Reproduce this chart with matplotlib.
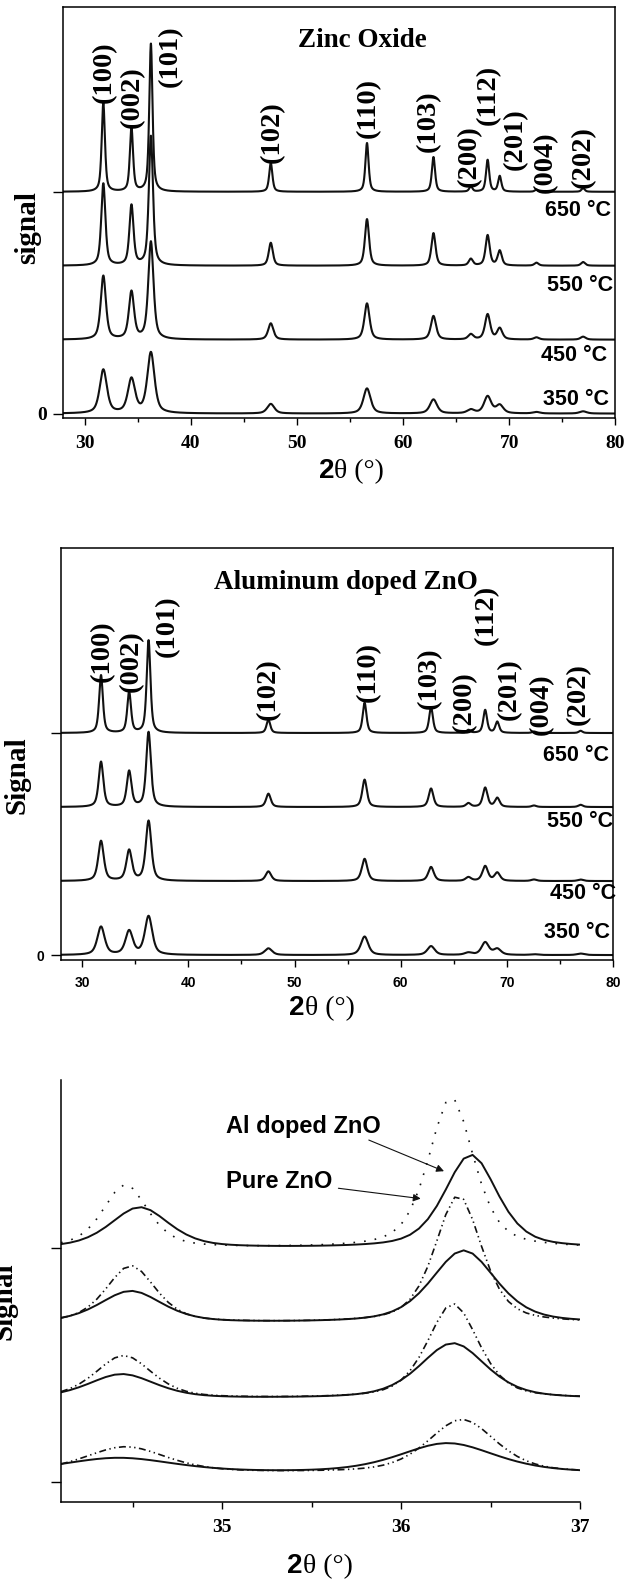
import matplotlib
matplotlib.use("Agg")
import matplotlib.pyplot as plt
import numpy as np

plt.rcParams['lines.scale_dashes'] = False
SERIF = 'Liberation Serif'
SANS = 'Liberation Sans'

# ---- data ----
temps = ['350 °C', '450 °C', '550 °C', '650 °C']
hkl = ['(100)', '(002)', '(101)', '(102)', '(110)', '(103)', '(200)', '(112)', '(201)', '(004)', '(202)']
peak_pos = [31.77, 34.42, 36.25, 47.54, 56.60, 62.86, 66.38, 67.96, 69.10, 72.56, 76.95]

# pure ZnO peak heights (offset units), 350 -> 650 °C
zno_h = [
    [0.59, 0.46, 0.82, 0.13, 0.34, 0.19, 0.05, 0.23, 0.11, 0.02, 0.03],
    [0.86, 0.64, 1.32, 0.22, 0.49, 0.32, 0.07, 0.34, 0.15, 0.03, 0.04],
    [1.11, 0.81, 1.75, 0.31, 0.63, 0.44, 0.09, 0.41, 0.20, 0.04, 0.05],
    [1.20, 0.86, 2.00, 0.39, 0.66, 0.47, 0.07, 0.43, 0.21, 0.03, 0.05],
]
zno_fwhm = [0.80, 0.58, 0.46, 0.36]

# Al doped ZnO peak heights
azo_h = [
    [0.38, 0.32, 0.52, 0.09, 0.25, 0.12, 0.03, 0.17, 0.08, 0.01, 0.02],
    [0.54, 0.41, 0.81, 0.13, 0.30, 0.19, 0.05, 0.20, 0.11, 0.02, 0.02],
    [0.61, 0.48, 1.01, 0.18, 0.37, 0.25, 0.05, 0.26, 0.12, 0.02, 0.03],
    [0.78, 0.55, 1.25, 0.18, 0.41, 0.35, 0.04, 0.31, 0.15, 0.02, 0.03],
]
azo_fwhm = [0.82, 0.62, 0.52, 0.42]
offsets = [0, 1, 2, 3]

# zoom on (002)/(101), 350 -> 650 °C
z_al_pos = [[34.42, 36.26], [34.44, 36.29], [34.49, 36.35], [34.54, 36.39]]
z_al_h = [[0.20, 0.40], [0.33, 0.75], [0.43, 0.98], [0.55, 1.26]]
z_al_fwhm = [[0.75, 0.64], [0.45, 0.44], [0.42, 0.43], [0.39, 0.35]]
z_pure_pos = [[34.46, 36.34], [34.45, 36.29], [34.49, 36.32], [34.46, 36.28]]
z_pure_h = [[0.35, 0.72], [0.58, 1.28], [0.77, 1.72], [0.85, 2.03]]
z_pure_fwhm = [[0.55, 0.45], [0.38, 0.34], [0.33, 0.31], [0.30, 0.30]]
z_offsets = [0, 1.0, 2.02, 3.03]


def profile(x, pos, h, w, eta=0.6):
    y = np.zeros_like(x)
    for p, a, f in zip(pos, h, np.broadcast_to(w, len(pos))):
        u = (x - p) / (f / 2)
        y += a * (eta / (1 + u ** 2) + (1 - eta) * np.exp(-np.log(2) * u ** 2))
    return y


fig = plt.figure(figsize=(6.38, 15.81), dpi=100)


def xrd_panel(rect, heights, fwhm, title, title_x, tick_font, tick_size, labels_hkl, labels_t):
    ax = fig.add_axes(rect)
    x = np.linspace(28, 80, 3000)
    for i in range(4):
        ax.plot(x, offsets[i] + profile(x, peak_pos, heights[i], fwhm[i]), color='#111111', lw=1.5)
    ax.set_xlim(28, 80)
    ax.set_ylim(-0.06, 5.5)
    ax.set_xticks([30, 40, 50, 60, 70, 80])
    ax.set_xticks([35, 45, 55, 65, 75], minor=True)
    ax.set_yticks([0, 3])
    ax.set_yticklabels(['0', ''])
    ax.tick_params(direction='out', length=5, width=1.0, pad=7)
    ax.tick_params(axis='y', length=7, pad=5)
    ax.tick_params(which='minor', direction='out', length=3, width=1.0)
    for lab in ax.get_xticklabels() + ax.get_yticklabels():
        lab.set_fontfamily(tick_font)
        lab.set_fontweight('bold')
        lab.set_fontsize(tick_size)
    for s in ax.spines.values():
        s.set_linewidth(1.1)
    ax.text(title_x, 5.04, title, ha='center', va='center', fontfamily=SERIF,
            fontweight='bold', fontsize=19.5)
    for lab, (lx, ly) in zip(hkl, labels_hkl):
        ax.text(lx, ly, lab, rotation=90, ha='center', va='bottom', fontfamily=SERIF,
                fontweight='bold', fontsize=20.5)
    for lab, (lx, ly) in zip(temps, labels_t):
        ax.text(lx, ly, lab, ha='right', va='center', fontfamily=SANS,
                fontweight='bold', fontsize=15.5)
    return ax


ax1 = xrd_panel([0.0992, 0.7356, 0.8655, 0.2600], zno_h, zno_fwhm, 'Zinc Oxide', 56.2,
                SERIF, 14,
                [(31.9, 4.20), (34.5, 3.86), (38.1, 4.42), (47.65, 3.39), (56.75, 3.73),
                 (62.4, 3.54), (66.2, 3.07), (68.07, 3.91), (70.56, 3.30), (73.4, 2.99), (77.0, 3.05)],
                [(79.39, 0.19), (79.2, 0.79), (79.76, 1.73), (79.57, 2.75)])

ax2 = xrd_panel([0.0956, 0.3931, 0.8652, 0.2603], azo_h, azo_fwhm, 'Aluminum doped ZnO', 54.85,
                SANS, 10,
                [(31.92, 3.69), (34.61, 3.56), (37.99, 4.03), (47.58, 3.18), (56.98, 3.42),
                 (62.73, 3.33), (66.0, 3.0), (68.11, 4.19), (70.22, 3.18), (73.29, 2.97), (76.74, 3.11)],
                [(79.72, 0.31), (80.28, 0.83), (80.0, 1.80), (79.62, 2.70)])

# ---- bottom panel: zoom around (002) and (101) ----
ax3 = fig.add_axes([0.0956, 0.0500, 0.8135, 0.2669])
xz = np.arange(34.1, 37.001, 0.05)
dashdotdot = (0, (5, 2.5, 1, 2.5, 1, 2.5))
for i in range(4):
    pure = z_offsets[i] + profile(xz, z_pure_pos[i], z_pure_h[i], z_pure_fwhm[i], eta=0.5)
    al = z_offsets[i] + profile(xz, z_al_pos[i], z_al_h[i], z_al_fwhm[i], eta=0.5)
    ls = (0, (1.2, 6.5)) if i == 3 else dashdotdot
    ax3.plot(xz, pure, color='#111111', lw=1.2, linestyle=ls)
    ax3.plot(xz, al, color='#111111', lw=1.4)
ax3.set_xlim(34.1, 37)
ax3.set_ylim(-0.39, 5.3)
ax3.set_xticks([35, 36, 37])
ax3.set_xticks([34.5, 35.5, 36.5], minor=True)
ax3.set_yticks([-0.12, 3.03])
ax3.set_yticklabels(['', ''])
ax3.spines['top'].set_visible(False)
ax3.spines['right'].set_visible(False)
for s in ax3.spines.values():
    s.set_linewidth(1.1)
ax3.tick_params(direction='out', length=5, width=1.0, pad=7)
ax3.tick_params(axis='y', length=7)
ax3.tick_params(which='minor', direction='out', length=3.5, width=1.0)
for lab in ax3.get_xticklabels():
    lab.set_fontfamily(SERIF)
    lab.set_fontweight('bold')
    lab.set_fontsize(14)

ax3.text(35.02, 4.67, 'Al doped ZnO', ha='left', va='center', fontfamily=SANS,
         fontweight='bold', fontsize=17)
ax3.text(35.02, 3.93, 'Pure ZnO', ha='left', va='center', fontfamily=SANS,
         fontweight='bold', fontsize=17)
arrow = dict(arrowstyle='-|>', lw=0.8, color='#111111', mutation_scale=11, shrinkA=0, shrinkB=0)
ax3.annotate('', xy=(36.24, 4.07), xytext=(35.82, 4.49), arrowprops=arrow)
ax3.annotate('', xy=(36.11, 3.70), xytext=(35.65, 3.84), arrowprops=arrow)

# ---- axis titles ----
H, W = 1581.0, 638.0
fig.text(27.5 / W, 1 - 228 / H, 'signal', rotation=90, ha='center', va='center',
         fontfamily=SERIF, fontweight='bold', fontsize=21)
fig.text(17 / W, 1 - 775 / H, 'Signal', rotation=90, ha='center', va='center',
         fontfamily=SERIF, fontweight='bold', fontsize=21)
fig.text(4 / W, 1 - 1301 / H, 'Signal', rotation=90, ha='center', va='center',
         fontfamily=SERIF, fontweight='bold', fontsize=21)
for sx, by in [(334, 478), (305, 1015), (303, 1573)]:
    fig.text(sx / W, 1 - by / H, '2', ha='right', va='baseline', fontfamily=SANS,
             fontweight='bold', fontsize=20)
    fig.text(sx / W, 1 - by / H, 'θ (°)', ha='left', va='baseline', fontfamily=SERIF,
             fontsize=20)

fig.savefig('out.png', dpi=100)
